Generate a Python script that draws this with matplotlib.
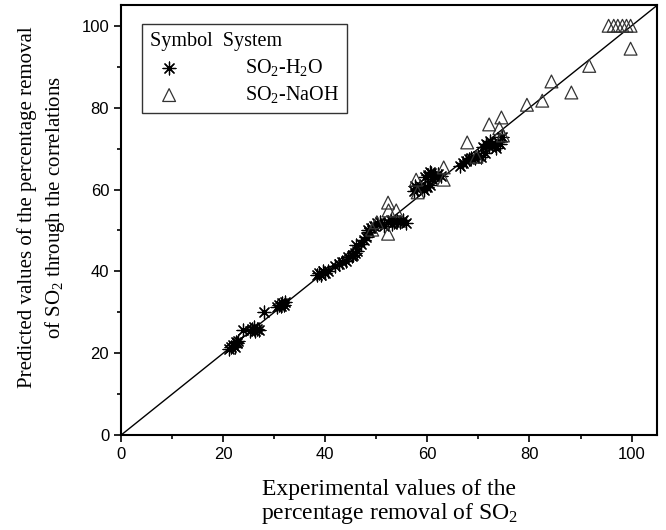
import matplotlib
matplotlib.use("Agg")
import matplotlib.pyplot as plt
from matplotlib.ticker import MultipleLocator

# SO2-H2O: experimental vs predicted (%)
h2o_exp = [21.2, 21.6, 22.0, 22.3, 22.7, 23.0, 22.5,
           23.8, 25.2, 25.7, 26.2, 26.6, 27.0, 26.0,
           28.0,
           30.5, 31.0, 31.5, 31.9, 32.2, 31.3,
           38.3, 38.8, 39.2, 39.6, 40.0, 40.5,
           42.0, 42.6, 43.3, 44.0, 44.5, 45.2, 45.8, 46.2, 46.0, 45.5, 47.0, 47.5,
           48.0, 48.5, 49.0, 49.6, 50.2, 50.8, 48.3,
           51.5, 52.2, 52.8, 53.4, 54.0, 54.6, 55.2, 55.9, 53.0,
           57.3, 58.0, 58.6, 59.3, 60.0, 60.6, 57.6,
           59.5, 60.2, 60.8, 61.4, 62.0, 62.6, 61.0, 60.5,
           66.3, 66.9, 67.5, 68.1, 68.6,
           69.3, 70.0, 70.6, 71.2,
           70.8, 71.4, 72.0, 72.6, 73.2, 73.8, 74.3, 72.3, 74.7, 73.5]
h2o_pred = [21.0, 21.5, 22.0, 21.6, 22.4, 23.0, 22.8,
            25.6, 25.4, 25.9, 25.5, 26.0, 25.7, 26.3,
            30.0,
            31.2, 31.8, 32.2, 31.9, 32.4, 31.5,
            39.0, 39.6, 39.2, 40.0, 39.6, 40.2,
            41.2, 41.8, 42.2, 42.5, 43.5, 43.8, 44.6, 45.0, 46.5, 44.0, 46.8, 47.6,
            48.5, 49.5, 50.5, 51.2, 51.8, 52.0, 50.2,
            51.0, 52.0, 52.6, 52.0, 52.3, 52.0, 52.5, 51.9, 51.5,
            59.6, 60.2, 60.8, 60.0, 60.5, 61.0, 60.9,
            63.0, 63.6, 64.0, 63.4, 63.8, 63.2, 62.6, 64.4,
            65.8, 66.5, 67.0, 67.4, 67.8,
            67.6, 68.3, 68.0, 68.9,
            70.5, 71.0, 70.6, 71.2, 70.8, 71.5, 71.0, 71.8, 72.8, 70.2]

# SO2-NaOH
naoh_exp = [95.5, 96.5, 97.3, 98.2, 99.0, 99.8,
            99.8, 91.7, 88.2, 84.3, 82.5, 79.5,
            74.5, 72.1, 74.1, 74.8, 67.8, 69.6,
            63.2, 63.2, 57.8, 58.1,
            52.3, 52.4, 53.9, 50.1, 49.2, 52.3]
naoh_pred = [100.0, 100.0, 100.0, 100.0, 100.0, 100.0,
             94.4, 90.2, 83.7, 86.4, 81.7, 80.7,
             77.6, 75.9, 75.0, 73.2, 71.5, 68.0,
             65.4, 62.4, 62.4, 59.3,
             56.8, 54.9, 54.9, 52.0, 50.2, 49.2]

serif = "Liberation Serif"
sans = "Liberation Sans"

fig = plt.figure(figsize=(6.66, 5.30), dpi=100)
ax = fig.add_axes([0.1817, 0.179, 0.805, 0.811])

ax.plot([0, 105], [0, 105], color="black", lw=1)
ax.scatter(h2o_exp, h2o_pred, marker=(8, 2, 0), s=85, color="black",
           linewidths=0.9, label="SO$\\mathregular{_2}$-H$\\mathregular{_2}$O", zorder=3)
ax.scatter(naoh_exp, naoh_pred, marker="^", s=85, facecolors="none",
           edgecolors="#333333", linewidths=0.9,
           label="SO$\\mathregular{_2}$-NaOH", zorder=3)

ax.set_xlim(0, 105)
ax.set_ylim(0, 105)
ax.xaxis.set_major_locator(MultipleLocator(20))
ax.xaxis.set_minor_locator(MultipleLocator(10))
ax.yaxis.set_major_locator(MultipleLocator(20))
ax.yaxis.set_minor_locator(MultipleLocator(10))
ax.tick_params(which="both", direction="out", width=1.2)
ax.tick_params(which="major", length=5, labelsize=12)
ax.tick_params(which="minor", length=3)
for lab in ax.get_xticklabels() + ax.get_yticklabels():
    lab.set_fontfamily(sans)
for s in ax.spines.values():
    s.set_linewidth(1.5)

ax.set_xlabel("Experimental values of the\npercentage removal of SO$\\mathregular{_2}$",
              fontfamily=serif, fontsize=17, linespacing=1.05, labelpad=12)
ax.set_ylabel("Predicted values of the percentage removal\nof SO$\\mathregular{_2}$ through the correlations",
              fontfamily=serif, fontsize=15, linespacing=1.35)
ax.yaxis.set_label_coords(-0.100, 0.53)

leg = ax.legend(loc="upper left", bbox_to_anchor=(0.039, 0.956), borderaxespad=0,
                title="Symbol  System", alignment="left", fancybox=False,
                edgecolor="#333333", framealpha=1, handlelength=1.9,
                handletextpad=2.8, prop={"family": serif, "size": 14.5},
                title_fontproperties={"family": serif, "size": 14.5},
                labelspacing=0.3, borderpad=0.4)
leg.get_frame().set_linewidth(1.0)

fig.savefig("out.png", dpi=100)
